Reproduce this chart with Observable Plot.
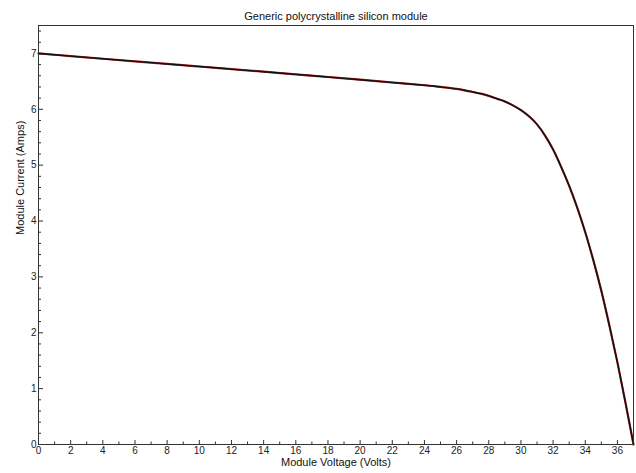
<!DOCTYPE html>
<html>
<head>
<meta charset="utf-8">
<script src="https://cdn.jsdelivr.net/npm/d3@7"></script>
<script src="https://cdn.jsdelivr.net/npm/@observablehq/plot@0.6"></script>
<style>
  html, body { margin: 0; padding: 0; background: #fff; }
  #chart { width: 636px; height: 473px; }
</style>
</head>
<body>
<div id="chart"></div>
<script>
const title = "Generic polycrystalline silicon module";
const xLabel = "Module Voltage (Volts)";
const yLabel = "Module Current (Amps)";

const voltage = [0, 2, 4, 6, 8, 10, 12, 14, 16, 18, 20, 22, 24, 25, 26, 26.5, 27, 27.5, 28, 28.5, 29, 29.5, 30, 30.5, 31, 31.5, 32, 32.5, 33, 33.5, 34, 34.5, 35, 35.5, 36, 36.5, 37];
const current = [7.00, 6.952, 6.905, 6.858, 6.812, 6.766, 6.72, 6.673, 6.626, 6.578, 6.53, 6.48, 6.43, 6.40, 6.365, 6.34, 6.31, 6.28, 6.24, 6.19, 6.14, 6.07, 5.985, 5.875, 5.73, 5.53, 5.28, 4.97, 4.63, 4.24, 3.80, 3.30, 2.75, 2.13, 1.47, 0.75, 0.0];

const xMajor = [0, 2, 4, 6, 8, 10, 12, 14, 16, 18, 20, 22, 24, 26, 28, 30, 32, 34, 36];
const xMinor = [1, 3, 5, 7, 9, 11, 13, 15, 17, 19, 21, 23, 25, 27, 29, 31, 33, 35, 37];
const yMajor = [0, 1, 2, 3, 4, 5, 6, 7];
const yMinor = [0.2, 0.4, 0.6, 0.8, 1.2, 1.4, 1.6, 1.8, 2.2, 2.4, 2.6, 2.8, 3.2, 3.4, 3.6, 3.8, 4.2, 4.4, 4.6, 4.8, 5.2, 5.4, 5.6, 5.8, 6.2, 6.4, 6.6, 6.8, 7.2, 7.4];

const data = voltage.map((v, i) => ({v, i: current[i]}));

const font = "'Liberation Sans Narrow', 'Liberation Sans', sans-serif";

const chart = Plot.plot({
  width: 636,
  height: 473,
  marginLeft: 38,
  marginRight: 3,
  marginTop: 25,
  marginBottom: 29,
  style: {fontFamily: "'Liberation Sans', sans-serif", fontSize: "10px", color: "#222", background: "#fff"},
  x: {domain: [0, 37]},
  y: {domain: [0, 7.5]},
  marks: [
    Plot.axisX(xMajor, {anchor: "bottom", tickSize: -4, tickPadding: 6, tickFormat: d3.format("d"), label: null, fill: "#222", stroke: "#333"}),
    Plot.axisX(xMinor, {anchor: "bottom", tickSize: -2.5, tickFormat: () => "", label: null, stroke: "#333"}),
    Plot.axisY(yMajor, {anchor: "left", tickSize: -5, tickPadding: 7, tickFormat: d3.format("d"), label: null, fill: "#222", stroke: "#333"}),
    Plot.axisY(yMinor, {anchor: "left", tickSize: -3, tickFormat: () => "", label: null, stroke: "#333"}),
    Plot.line(data, {x: "v", y: "i", curve: "catmull-rom", stroke: "#9a2020", strokeWidth: 2.2}),
    Plot.line(data, {x: "v", y: "i", curve: "catmull-rom", stroke: "#111", strokeWidth: 1.4}),
    Plot.frame({stroke: "#333"}),
    Plot.text([title], {frameAnchor: "top", dy: -13, text: d => d, fontFamily: font, fontSize: 11, fill: "#111"}),
    Plot.text([xLabel], {frameAnchor: "bottom", dy: 21, text: d => d, fontFamily: font, fontSize: 11, fill: "#111"}),
    Plot.text([yLabel], {frameAnchor: "left", dx: -18, rotate: -90, text: d => d, fontFamily: font, fontSize: 11, fill: "#111"})
  ]
});
document.getElementById("chart").appendChild(chart);
</script>
</body>
</html>
